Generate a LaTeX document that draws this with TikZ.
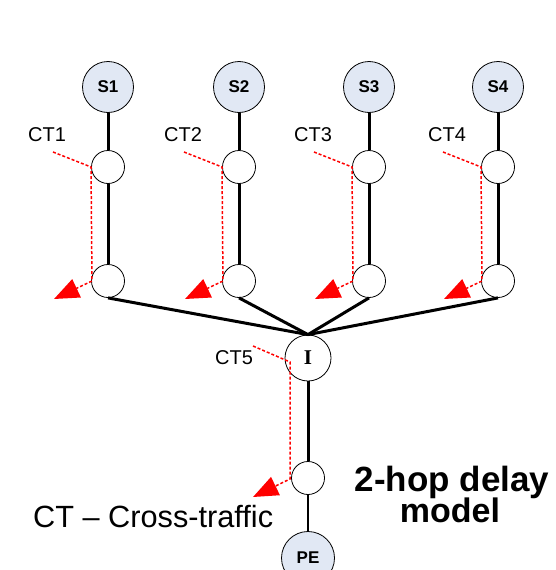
\documentclass[tikz,border=0pt]{standalone}
\usepackage{fontspec}
\setmainfont{Liberation Sans}
\newfontfamily\serifI{Liberation Serif}
\usetikzlibrary{arrows.meta}
\definecolor{sfill}{RGB}{225,232,244}
\begin{document}
\begin{tikzpicture}[x=1pt,y=-1pt,
 src/.style={circle,draw=black,line width=0.8pt,fill=sfill,minimum size=51pt,inner sep=0pt,font=\fontsize{17}{17}\selectfont\bfseries},
 hop/.style={circle,draw=black,line width=0.8pt,fill=white,minimum size=33pt,inner sep=0pt},
 link/.style={line width=3pt},
 ctlab/.style={font=\fontsize{20}{20}\selectfont,anchor=base,inner sep=0pt},
 ct/.style={red,line width=1.5pt,dash pattern=on 3pt off 2pt,-{Triangle[length=25pt,width=20pt]}},
]
\useasboundingbox (0,0) rectangle (555,570);
\foreach \i/\x/\lx in {1/108/47,2/239/183,3/369/313,4/498/447}{
  \node[src] (s\i) at (\x,87) {S\i};
  \node[hop] (t\i) at (\x,167) {};
  \node[hop] (b\i) at (\x,281) {};
  \node[ctlab] (ct\i) at (\lx,141) {CT\i};
  \coordinate (c\i a) at (\x-55,152);
  \coordinate (c\i b) at (\x-17,167);
  \coordinate (c\i c) at (\x-16,281);
  \coordinate (c\i d) at (\x-54,299);
}
\node[hop,minimum size=46pt,font=\serifI\bfseries\fontsize{21}{21}\selectfont] (I) at (308,358) {I};
\node[hop] (low) at (308,478) {};
\node[src,minimum size=53pt] (pe) at (308,558) {PE};
\node[ctlab] (ct5) at (234,364) {CT5};
\coordinate (c5a) at (253,346);
\coordinate (c5b) at (290,362);
\coordinate (c5c) at (290,479);
\coordinate (c5d) at (253,497);

\foreach \i in {1,2,3,4}{
  \draw[link] (s\i) -- (t\i);
  \draw[link] (t\i) -- (b\i);
  \draw[link] (b\i.south) -- (I.north);
  \draw[ct] (c\i a) -- (c\i b) -- (c\i c) -- (c\i d);
}
\draw[link] (I) -- (low);
\draw[line width=2.5pt] (low) -- (pe);
\draw[ct] (c5a) -- (c5b) -- (c5c) -- (c5d);

\node[anchor=base west,inner sep=0pt,font=\fontsize{30.7}{31}\selectfont] (legend) at (33,527) {CT – Cross-traffic};
\node[anchor=base,inner sep=0pt,font=\fontsize{35}{35}\selectfont\bfseries] (title1) at (452,491) {2-hop delay};
\node[anchor=base,inner sep=0pt,font=\fontsize{34}{34}\selectfont\bfseries] (title2) at (450,522) {model};
\end{tikzpicture}
\end{document}
